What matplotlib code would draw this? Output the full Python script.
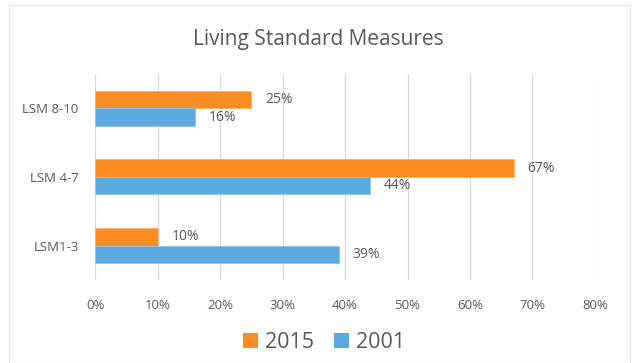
import matplotlib
matplotlib.use("Agg")
import matplotlib.pyplot as plt
from matplotlib.patches import Rectangle, Patch
import numpy as np

categories = ["LSM1-3", "LSM 4-7", "LSM 8-10"]
values_2015 = [10, 67, 25]
values_2001 = [39, 44, 16]
series_names = ["2015", "2001"]
xticks = [0, 10, 20, 30, 40, 50, 60, 70, 80]

plt.rcParams['font.family'] = ['Open Sans', 'DejaVu Sans']
orange = '#FA8C23'
blue = '#5CA9DF'
gray = '#595959'

fig = plt.figure(figsize=(6.39, 3.63), dpi=100)
fig.patch.set_facecolor('white')
ax = fig.add_axes([0.149, 0.229, 0.782, 0.567])

y = np.arange(len(categories))
h = 0.255
ax.barh(y + h / 2, values_2015, height=h, color=orange, edgecolor='#FFB066', linewidth=0.6, zorder=3)
ax.barh(y - h / 2, values_2001, height=h, color=blue, edgecolor='#8CC4EC', linewidth=0.6, zorder=3)

for yi, v in zip(y, values_2015):
    ax.text(v + 2.2, yi + h / 2, f"{v}%", va='center', ha='left', fontsize=10, color=gray)
for yi, v in zip(y, values_2001):
    ax.text(v + 2.2, yi - h / 2, f"{v}%", va='center', ha='left', fontsize=10, color=gray)

ax.set_xlim(0, 80)
ax.set_ylim(-0.5, 2.5)
ax.set_xticks(xticks)
ax.set_xticklabels([f"{t}%" for t in xticks], fontsize=9.5, color=gray)
ax.set_yticks(y)
ax.set_yticklabels(categories, fontsize=9.5, color=gray)
ax.tick_params(length=0, pad=12)
ax.tick_params(axis='x', pad=14)
ax.grid(axis='x', color='#D9D9D9', linewidth=0.9, zorder=0)
for s in ax.spines.values():
    s.set_visible(False)

fig.text(0.498, 0.89, "Living Standard Measures", ha='center', va='center', fontsize=15, color=gray)

handles = [Patch(facecolor=orange), Patch(facecolor=blue)]
fig.legend(handles, series_names, loc='center', bbox_to_anchor=(0.507, 0.057), ncol=2, frameon=False,
           fontsize=15.5, handlelength=0.7, handleheight=0.7, handletextpad=0.35, columnspacing=0.9,
           labelcolor=gray)

fig.patches.append(Rectangle((0.014, 0.0), 0.972, 0.985, transform=fig.transFigure, fill=False,
                             edgecolor='#E6E6E6', linewidth=1.0))

fig.savefig("out.png", dpi=100)
